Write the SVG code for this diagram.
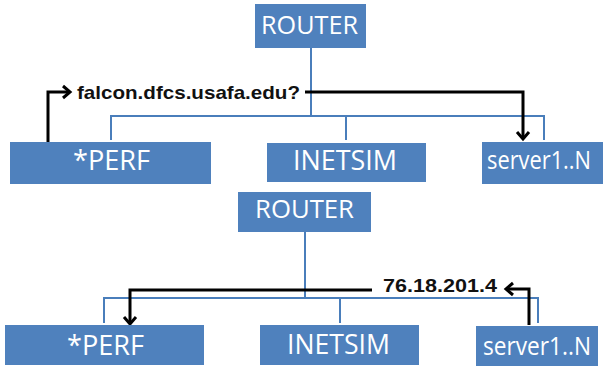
<svg xmlns="http://www.w3.org/2000/svg" width="606" height="368" viewBox="0 0 606 368">
<defs>
<style>
.box{fill:#4f81bd}
.lbl{font-family:"Open Sans","Liberation Sans",sans-serif;fill:#fff;text-anchor:start}
.bus{stroke:#4a7ebb;stroke-width:2;fill:none}
.flow{stroke:#000;stroke-width:3;fill:none;marker-end:url(#ah)}
.msg{font-family:"Liberation Sans","DejaVu Sans",sans-serif;font-weight:bold;fill:#111;font-size:19px}
</style>
<marker id="ah" markerUnits="userSpaceOnUse" markerWidth="16" markerHeight="16" refX="7" refY="0" viewBox="-2 -8 12 16" orient="auto">
<path d="M0,-6 L7,0 L0,6" fill="none" stroke="#000" stroke-width="3"/>
</marker>
</defs>
<rect width="606" height="368" fill="#fff"/>
<g id="connectors">
<path class="bus" d="M311,48 V116 M111,140 V116 H544 V140 M346,116 V140"/>
<path class="bus" d="M305,232 V298 M104,323 V298 H538 V323 M340,298 V323"/>
<path class="flow" d="M48,142 V92 H70"/>
<path class="flow" d="M305,92 H523 V139"/>
<path class="flow" d="M372,290 H130 V324"/>
<path class="flow" d="M529,325 V289 H506"/>
</g>
<g id="router1"><rect class="box" x="255" y="4" width="111" height="44"/><text class="lbl" x="261" y="34" font-size="25" textLength="97" lengthAdjust="spacingAndGlyphs">ROUTER</text></g>
<g id="perf1"><rect class="box" x="10" y="142" width="201" height="42"/><text class="lbl" x="73" y="170" font-size="28" textLength="77" lengthAdjust="spacingAndGlyphs">*PERF</text></g>
<g id="inetsim1"><rect class="box" x="267" y="143" width="159" height="39"/><text class="lbl" x="293" y="170" font-size="28" textLength="104" lengthAdjust="spacingAndGlyphs">INETSIM</text></g>
<g id="server1"><rect class="box" x="482" y="142" width="121" height="42"/><text class="lbl" x="487" y="169" font-size="25" textLength="104" lengthAdjust="spacingAndGlyphs">server1..N</text></g>
<g id="router2"><rect class="box" x="238" y="192" width="133" height="40"/><text class="lbl" x="255" y="218" font-size="25" textLength="99" lengthAdjust="spacingAndGlyphs">ROUTER</text></g>
<g id="perf2"><rect class="box" x="5" y="325" width="199" height="40"/><text class="lbl" x="67" y="355" font-size="28" textLength="77" lengthAdjust="spacingAndGlyphs">*PERF</text></g>
<g id="inetsim2"><rect class="box" x="260" y="325" width="159" height="40"/><text class="lbl" x="287" y="354" font-size="28" textLength="103" lengthAdjust="spacingAndGlyphs">INETSIM</text></g>
<g id="server2"><rect class="box" x="476" y="326" width="122" height="40"/><text class="lbl" x="483" y="355" font-size="25" textLength="108" lengthAdjust="spacingAndGlyphs">server1..N</text></g>
<text class="msg" x="77" y="99" textLength="223" lengthAdjust="spacingAndGlyphs">falcon.dfcs.usafa.edu?</text>
<text class="msg" x="383" y="292" font-size="20" textLength="114" lengthAdjust="spacingAndGlyphs">76.18.201.4</text>
</svg>
